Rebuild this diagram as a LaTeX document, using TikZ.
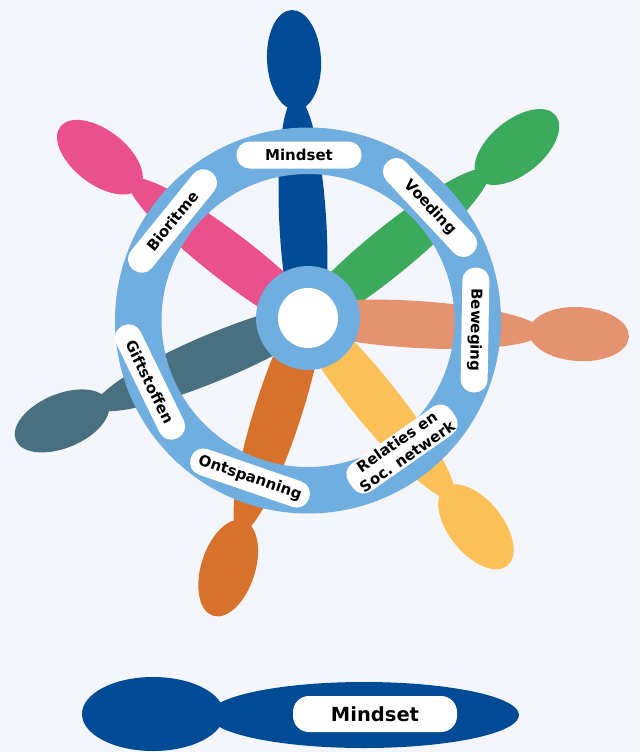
\documentclass[tikz,border=0pt]{standalone}
\usepackage{fontspec}
\setmainfont{DejaVu Sans}
\definecolor{bgc}{RGB}{245,246,252}
\definecolor{ringc}{RGB}{111,174,223}
\definecolor{cblue}{RGB}{0,75,150}
\definecolor{cgreen}{RGB}{60,170,92}
\definecolor{csalmon}{RGB}{229,146,113}
\definecolor{cyellow}{RGB}{252,192,88}
\definecolor{corange}{RGB}{216,113,44}
\definecolor{cslate}{RGB}{72,112,128}
\definecolor{cpink}{RGB}{234,80,138}
\begin{document}
\begin{tikzpicture}[x=1pt,y=-1pt,
  lbl/.style={fill=white, rounded corners=13pt, minimum width=125pt, minimum height=27pt,
    inner sep=2pt, font=\bfseries\fontsize{15}{18}\selectfont, align=center, text=black},
  legendlbl/.style={fill=white, rounded corners=16pt, minimum width=164pt, minimum height=36pt,
    inner sep=2pt, font=\bfseries\fontsize{19.5}{22}\selectfont, text=black}]
\fill[bgc] (0,0) rectangle (640,752);
\useasboundingbox (0,0) rectangle (640,752);
% spokes
\foreach \a/\d/\c in {93.1/258.4/cblue, 39.3/270/cgreen, -3.4/271.5/csalmon,
  -51.2/268/cyellow, -107.7/262.5/corange, 202.7/266.7/cslate, 142.3/263/cpink}{
  \begin{scope}[shift={(308,318)}, rotate=\a]
    \fill[\c] ({\d-166},0) ellipse [x radius=129pt, y radius=23.5pt];
    \fill[\c] (\d,0) ellipse [x radius=50pt, y radius=27pt];
  \end{scope}
}
% ring and hub
\fill[ringc, even odd rule] (308,320.5) circle (193pt) (308,320.5) circle (146.5pt);
\fill[ringc] (308,318) circle (52pt);
\fill[white] (308,318) circle (30pt);
% labels
\node[lbl] (mindset) at (299,155) {Mindset};
\node[lbl, rotate=-47] (voeding) at (430,207.5) {Voeding};
\node[lbl, rotate=-91] (beweging) at (475,330) {Beweging};
\node[lbl, rotate=35] (relaties) at (402,449) {Relaties en\\Soc. netwerk};
\node[lbl, rotate=-19] (ontspanning) at (250,478) {Ontspanning};
\node[lbl, rotate=-64] (giftstoffen) at (150,382) {Giftstoffen};
\node[lbl, rotate=51] (bioritme) at (172.5,221) {Bioritme};
% legend
\fill[cblue] (153,714) ellipse [x radius=71pt, y radius=37pt];
\fill[cblue] (364,715) ellipse [x radius=155pt, y radius=33pt];
\node[legendlbl] (legend) at (375,714) {Mindset};
\end{tikzpicture}
\end{document}
